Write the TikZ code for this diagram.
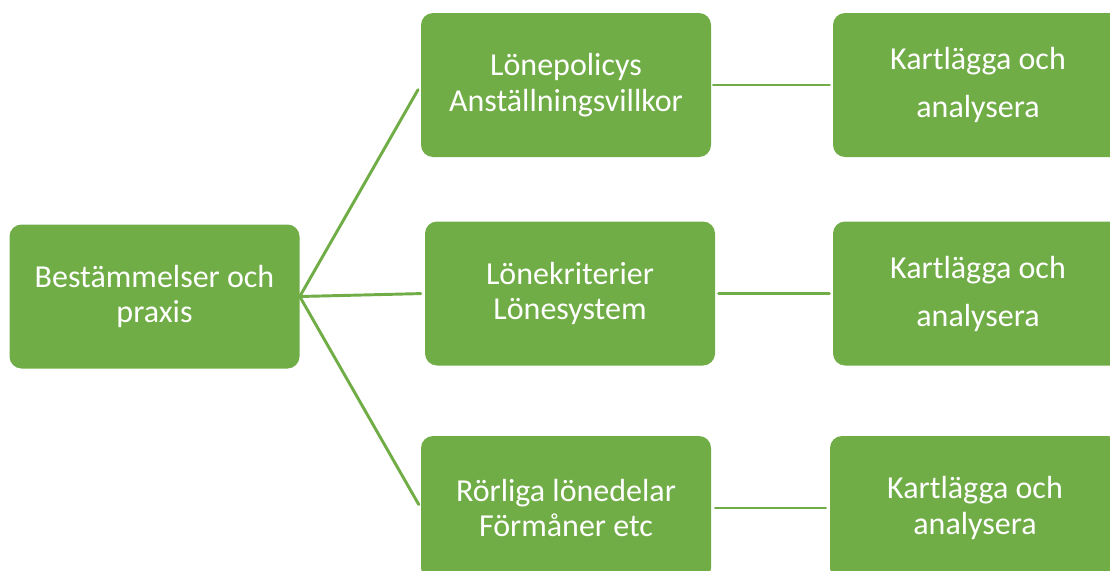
\documentclass[tikz,border=0pt]{standalone}
\usepackage{fontspec}
\setmainfont{Carlito}
\usetikzlibrary{positioning}
\definecolor{boxgreen}{HTML}{70AD47}

\begin{document}
\begin{tikzpicture}[x=0.75pt,y=-0.75pt,line cap=round,line join=round,
    box/.style={fill=boxgreen,draw=none,rounded corners=9pt,
      minimum width=217.5pt,minimum height=108pt,inner sep=0pt,
      text=white,align=center,font=\fontsize{24}{26.5}\selectfont},
    tall/.style={font=\fontsize{24}{36}\selectfont},
    link/.style={draw=boxgreen,line width=2.2pt}]
    \useasboundingbox (0,0) rectangle (1110,571);
    \clip (0,0) rectangle (1110,571);

    % Root of the tree.
    \node[box] (rot) at (154.5,296.5) {Bestämmelser och\\praxis};

    % The three areas.
    \node[box] (pol) at (566,85) {Lönepolicys\\Anställningsvillkor};
    \node[box] (krit) at (570,293.5) {Lönekriterier\\Lönesystem};
    \node[box] (rorl) at (566,508) {Rörliga lönedelar\\Förmåner etc};

    % What is done with each area.
    \node[box,tall] (kart1) at (978,85) {Kartlägga och\\analysera};
    \node[box,tall] (kart2) at (978,293.5) {Kartlägga och\\analysera};
    \node[box] (kart3) at (975,508) {Kartlägga och\\analysera};

    % Connectors.
    \draw[link,shorten >=4pt] (rot.east) -- (pol.west);
    \draw[link,shorten >=3pt] (rot.east) -- (krit.west);
    \draw[link,shorten >=3pt] (rot.east) -- (rorl.west);
    \draw[link,shorten <=1.5pt,shorten >=2.5pt] (pol.east) -- (kart1.west);
    \draw[link,shorten <=2.5pt,shorten >=2.5pt] (krit.east) -- (kart2.west);
    \draw[link,shorten <=3pt,shorten >=3pt] (rorl.east) -- (kart3.west);
  \end{tikzpicture}
\end{document}
